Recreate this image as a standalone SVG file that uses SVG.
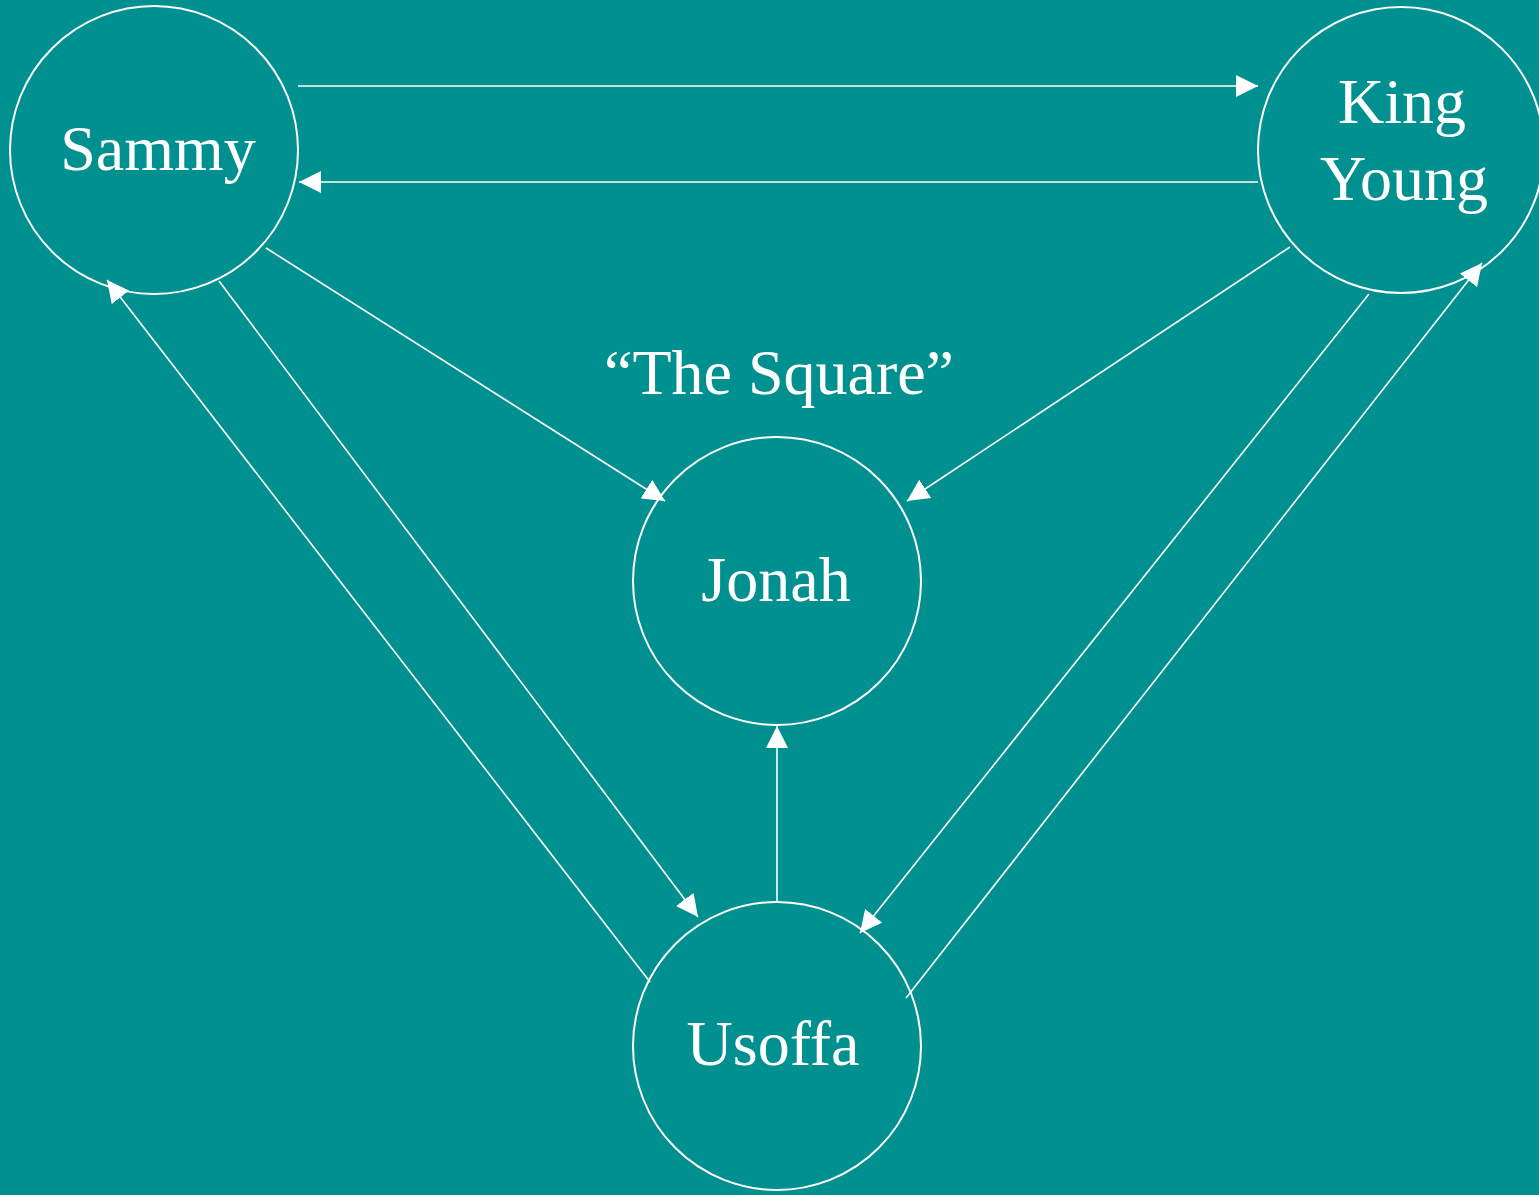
<svg xmlns="http://www.w3.org/2000/svg" width="1539" height="1195" viewBox="0 0 1539 1195">
<style>
.node{fill:none;stroke:#fff;stroke-width:2}
.lbl{font-family:"Liberation Serif","Times New Roman",serif;font-size:64px;fill:#fff;text-anchor:middle}
.edge{stroke:#fff;stroke-width:1.6;fill:none;marker-end:url(#ah)}
</style>
<defs>
<marker id="ah" markerUnits="userSpaceOnUse" markerWidth="22" markerHeight="22" viewBox="0 0 20 20" refX="20" refY="10" orient="auto">
<path d="M0,0 L20,10 L0,20 Z" fill="#fff"/>
</marker>
</defs>
<rect width="1539" height="1195" fill="#009090"/>
<g id="connectors">
<line class="edge" x1="298" y1="86" x2="1258" y2="86"/>
<line class="edge" x1="1258" y1="182" x2="299" y2="182"/>
<line class="edge" x1="266" y1="248" x2="665" y2="501"/>
<line class="edge" x1="1290" y1="247" x2="907" y2="501"/>
<line class="edge" x1="219" y1="281" x2="698" y2="917"/>
<line class="edge" x1="650" y1="982" x2="107" y2="280"/>
<line class="edge" x1="777" y1="902" x2="777" y2="726"/>
<line class="edge" x1="1369" y1="294" x2="860" y2="933"/>
<line class="edge" x1="906" y1="998" x2="1482" y2="263"/>
</g>
<g id="sammy">
<circle class="node" cx="154" cy="150" r="144"/>
<text class="lbl" x="158" y="170">Sammy</text>
</g>
<g id="kingyoung">
<circle class="node" cx="1401" cy="150" r="143"/>
<text class="lbl" x="1402" y="123">King</text>
<text class="lbl" x="1404" y="200">Young</text>
</g>
<g id="square">
<text class="lbl" x="779" y="394">“The Square”</text>
</g>
<g id="jonah">
<circle class="node" cx="777" cy="581" r="144"/>
<text class="lbl" x="776" y="601">Jonah</text>
</g>
<g id="usoffa">
<circle class="node" cx="777" cy="1046" r="144"/>
<text class="lbl" x="773" y="1065">Usoffa</text>
</g>
</svg>
